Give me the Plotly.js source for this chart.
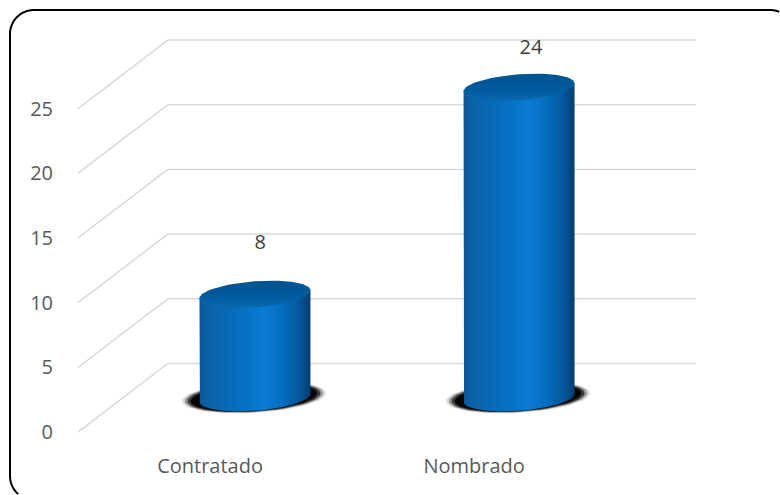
<!DOCTYPE html>
<html><head><meta charset="utf-8">
<script src="https://cdn.plot.ly/plotly-3.0.1.min.js"></script>
<style>
html,body{margin:0;padding:0;background:#fff;overflow:hidden;width:780px;height:495px;}
#chart{width:780px;height:495px;}
</style>
</head><body><div id="chart"></div>
<script>
const categories = ['Contratado', 'Nombrado'];
const values = [8, 24];
const tickValues = [0, 5, 10, 15, 20, 25];

const W = 780, H = 495, ML = 78, MR = 84, MT = 31, MB = 50;
const PW = W - ML - MR, PH = H - MT - MB;
const depthX = 0.34, depthY = 5.3;
const xRange = [-0.5, categories.length - 0.5 + depthX];
const yRange = [-1, 31];
const pxPerX = PW / (xRange[1] - xRange[0]);
const pxPerY = PH / (yRange[1] - yRange[0]);
const rX = 55.5 / pxPerX, rY = 13 / pxPerY, shear = 4 / pxPerY;
const base = depthY / 2;
const N = 72;

function arc(cx, cy, rx, ry, k, t0, t1) {
  const xs = [], ys = [];
  for (let j = 0; j <= N; j++) {
    const t = t0 + (t1 - t0) * j / N;
    xs.push(cx + rx * Math.cos(t));
    ys.push(cy + ry * Math.sin(t) + k * Math.cos(t));
  }
  return [xs, ys];
}

const traces = [];
const bodyScale = [[0, '#10599a'], [0.1, '#0862a8'], [0.35, '#066fc0'], [0.6, '#0a7bd4'], [0.75, '#066cbc'], [0.9, '#04579a'], [1, '#023e72']];
const topScale = [[0, '#0a68b0'], [0.45, '#005a9c'], [1, '#00538e']];

categories.forEach((c, i) => {
  const cx = i + depthX / 2;
  const top = base + values[i];
  [[1.30, 1.22, 0.12], [1.25, 1.17, 0.3], [1.20, 1.12, 0.6], [1.14, 1.07, 0.9]].forEach(s => {
    const [xs, ys] = arc(cx - 0.004, base + 0.05, rX * s[0], rY * s[1], shear, 0, 2 * Math.PI);
    traces.push({x: xs, y: ys, mode: 'lines', fill: 'toself', line: {width: 0},
      fillcolor: 'rgba(0,0,0,' + s[2] + ')', hoverinfo: 'skip'});
  });
  const [bx, by] = arc(cx, base, rX, rY, shear, Math.PI, 2 * Math.PI);
  const xs = [cx - rX].concat(bx, [cx + rX]);
  const ys = [top - shear].concat(by, [top + shear]);
  traces.push({x: xs, y: ys, mode: 'lines', fill: 'toself', line: {width: 0},
    fillgradient: {type: 'horizontal', colorscale: bodyScale}, hoverinfo: 'skip', name: c});
  const [tx, ty] = arc(cx, top, rX, rY, shear, 0, 2 * Math.PI);
  traces.push({x: tx, y: ty, mode: 'lines', fill: 'toself', line: {width: 0},
    fillgradient: {type: 'vertical', colorscale: topScale}, hoverinfo: 'skip'});
});

traces.push({
  x: categories.map((c, i) => i + depthX / 2 + 0.02 + 0.025 * i),
  y: values.map(v => base + v * 0.94 + 4.4),
  mode: 'text', text: values.map(String), textposition: 'middle center',
  textfont: {family: 'Open Sans, sans-serif', size: 20, color: '#404040'}, hoverinfo: 'skip'
});

const shapes = [];
tickValues.forEach(v => {
  shapes.push({type: 'line', xref: 'x', yref: 'y', layer: 'below',
    x0: xRange[0], y0: v, x1: xRange[0] + depthX, y1: v + depthY,
    line: {color: '#d9d9d9', width: 1.5}});
  shapes.push({type: 'line', xref: 'x', yref: 'y', layer: 'below',
    x0: xRange[0] + depthX, y0: v + depthY, x1: xRange[1], y1: v + depthY,
    line: {color: '#d9d9d9', width: 1.5}});
});

// chart-area frame (rounded), only the part inside the picture
const toPx = p => (p - ML) / PW, toPy = p => (H - MB - p) / PH;
const R = 24, FL = 10, FT = 10, FR = 794, FB = 500;
const pts = [];
function cornerArc(cx, cy, a0, a1) {
  for (let j = 0; j <= 24; j++) {
    const a = (a0 + (a1 - a0) * j / 24) * Math.PI / 180;
    pts.push([cx + R * Math.cos(a), cy + R * Math.sin(a)]);
  }
}
cornerArc(FL + R, FB - R, 90, 180);
cornerArc(FL + R, FT + R, 180, 270);
cornerArc(FR - R, FT + R, 270, 360);
const vis = pts.filter(p => p[0] <= W - 0.5 && p[1] <= H - 0.5);
const framePath = vis.map((p, j) => (j ? 'L' : 'M') + toPx(p[0]).toFixed(5) + ',' + toPy(p[1]).toFixed(5)).join(' ');
shapes.push({type: 'path', xref: 'paper', yref: 'paper', path: framePath,
  line: {color: '#000', width: 2}, layer: 'above'});

const layout = {
  width: W, height: H,
  margin: {l: ML, r: MR, t: MT, b: MB, pad: 0},
  paper_bgcolor: '#fff', plot_bgcolor: 'rgba(0,0,0,0)',
  showlegend: false, hovermode: false,
  font: {family: 'Open Sans, sans-serif', color: '#595959', size: 20},
  xaxis: {range: xRange, tickvals: categories.map((c, i) => i), ticktext: categories,
    showgrid: false, zeroline: false, showline: false, ticks: 'outside', ticklen: 3,
    tickcolor: 'rgba(0,0,0,0)', tickfont: {size: 20, color: '#595959'}, fixedrange: true},
  yaxis: {range: yRange, tickvals: tickValues, showgrid: false, zeroline: false, showline: false,
    ticks: 'outside', ticklen: 20, tickcolor: 'rgba(0,0,0,0)',
    tickfont: {size: 20, color: '#595959'}, fixedrange: true},
  shapes: shapes
};
Plotly.newPlot('chart', traces, layout, {displayModeBar: false, staticPlot: true});
</script></body></html>
